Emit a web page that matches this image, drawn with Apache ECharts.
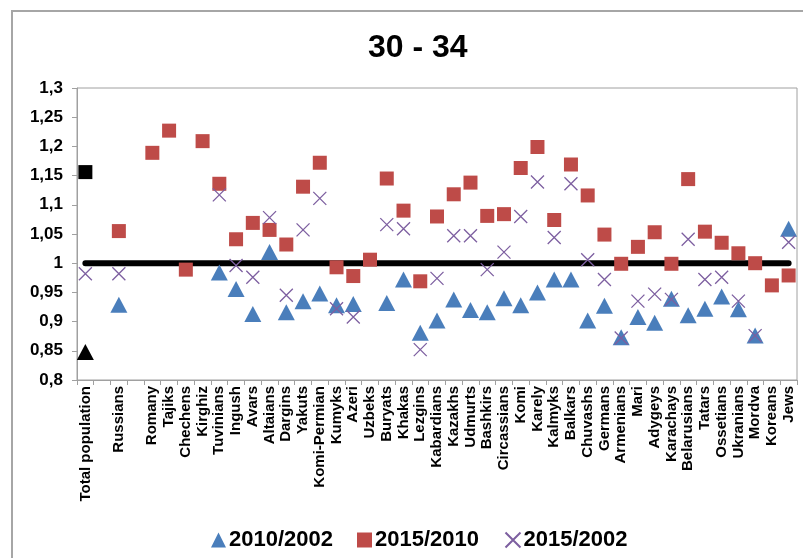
<!DOCTYPE html>
<html>
<head>
<meta charset="utf-8">
<script src="https://cdn.jsdelivr.net/npm/echarts@6/dist/echarts.min.js"></script>
<style>
html,body{margin:0;padding:0;background:#fff;}
#chart{width:803px;height:558px;}
</style>
</head>
<body>
<div id="chart"></div>
<script>
const categories = ["Total population","","Russians","","Romany","Tajiks","Chechens","Kirghiz","Tuvinians","Ingush","Avars","Altaians","Dargins","Yakuts","Komi-Permian","Kumyks","Azeri","Uzbeks","Buryats","Khakas","Lezgins","Kabardians","Kazakhs","Udmurts","Bashkirs","Circassians","Komi","Karely","Kalmyks","Balkars","Chuvashs","Germans","Armenians","Mari","Adygeys","Karachays","Belarusians","Tatars","Ossetians","Ukranians","Mordva","Koreans","Jews"];

const ratio2010_2002 = [0.848,null,0.929,null,null,null,null,null,0.984,0.956,0.913,1.019,0.916,0.935,0.948,0.928,0.930,null,0.932,0.972,0.881,0.902,0.938,0.920,0.916,0.940,0.928,0.950,0.972,0.972,0.902,0.927,0.873,0.908,0.898,0.939,0.911,0.922,0.943,0.921,0.876,null,1.059];

const ratio2015_2010 = [1.156,null,1.055,null,1.189,1.227,0.989,1.209,1.136,1.041,1.069,1.057,1.032,1.131,1.172,0.993,0.978,1.006,1.145,1.090,0.969,1.080,1.118,1.138,1.081,1.084,1.163,1.199,1.074,1.169,1.116,1.049,0.999,1.028,1.053,0.999,1.144,1.054,1.035,1.017,1.000,0.962,0.979];

const ratio2015_2002 = [0.982,null,0.982,null,null,null,null,null,1.117,0.996,0.976,1.078,0.945,1.057,1.111,0.922,0.908,null,1.066,1.059,0.852,0.974,1.047,1.047,0.989,1.019,1.080,1.139,1.044,1.136,1.006,0.972,0.872,0.935,0.947,0.938,1.041,0.972,0.976,0.935,0.876,null,1.036];

const baseline = [1,1,1,1,1,1,1,1,1,1,1,1,1,1,1,1,1,1,1,1,1,1,1,1,1,1,1,1,1,1,1,1,1,1,1,1,1,1,1,1,1,1,1];

const seriesNames = ["2010/2002","2015/2010","2015/2002"];
const yTicks = {min:0.8, max:1.3, interval:0.05};

const FONT = '"Liberation Sans", Arial, sans-serif';

function withTotalBlack(arr){
  return arr.map((v,i)=> i===0 && v!=null ? {value:v, itemStyle:{color:'#000'}} : v);
}

const chart = echarts.init(document.getElementById('chart'), null, {renderer:'canvas'});
chart.setOption({
  animation:false,
  backgroundColor:'#fff',
  textStyle:{fontFamily:FONT},
  graphic:[{
    type:'rect', silent:true, z:-10,
    shape:{x:12, y:11, width:900, height:700},
    style:{fill:'none', stroke:'#a6a6a6', lineWidth:2}
  }],
  title:{
    text:'30 - 34', left:363, top:27,
    textStyle:{fontFamily:FONT, fontSize:32, fontWeight:'bold', color:'#000'}
  },
  legend:{
    data:seriesNames,
    left:206, top:524,
    itemWidth:15, itemHeight:15, itemGap:24,
    textStyle:{fontFamily:FONT, fontSize:22, fontWeight:'bold', color:'#000', padding:[0,0,0,-2]}
  },
  grid:{left:77, right:6, top:88, bottom:178, show:true, borderColor:'#a0a0a0', borderWidth:1, containLabel:false},
  xAxis:{
    type:'category', data:categories, boundaryGap:true,
    axisLine:{lineStyle:{color:'#a0a0a0', width:1}},
    axisTick:{show:true, interval:0, length:5, alignWithLabel:false, lineStyle:{color:'#a0a0a0'}},
    axisLabel:{interval:0, rotate:90, margin:6, fontFamily:FONT, fontSize:15, fontWeight:'bold', color:'#000'},
    splitLine:{show:false}
  },
  yAxis:{
    type:'value', min:yTicks.min, max:yTicks.max, interval:yTicks.interval,
    axisLine:{show:true, lineStyle:{color:'#a0a0a0'}},
    axisTick:{show:true, length:5, lineStyle:{color:'#a0a0a0'}},
    splitLine:{show:false},
    axisLabel:{margin:14, fontFamily:FONT, fontSize:17, fontWeight:'bold', color:'#000',
      formatter:function(v){ return String(+v.toFixed(2)).replace('.', ','); }}
  },
  series:[
    {
      name:'baseline', type:'line', data:baseline, symbol:'none', z:1,
      lineStyle:{color:'#000', width:6, cap:'round'}, silent:true
    },
    {
      name:seriesNames[0], type:'scatter', data:withTotalBlack(ratio2010_2002), z:3,
      symbol:'triangle', symbolSize:[17,16],
      itemStyle:{color:'#4A7EBB', opacity:1}
    },
    {
      name:seriesNames[1], type:'scatter', data:withTotalBlack(ratio2015_2010), z:3,
      symbol:'rect', symbolSize:14,
      itemStyle:{color:'#BE4B48', opacity:1}
    },
    {
      name:seriesNames[2], type:'scatter', data:ratio2015_2002, z:4,
      symbol:'path://M0,0L10,10M10,0L0,10', symbolSize:13,
      itemStyle:{color:'none', borderColor:'#7D5FA0', borderWidth:1.3, opacity:1}
    }
  ]
});
</script>
</body>
</html>
